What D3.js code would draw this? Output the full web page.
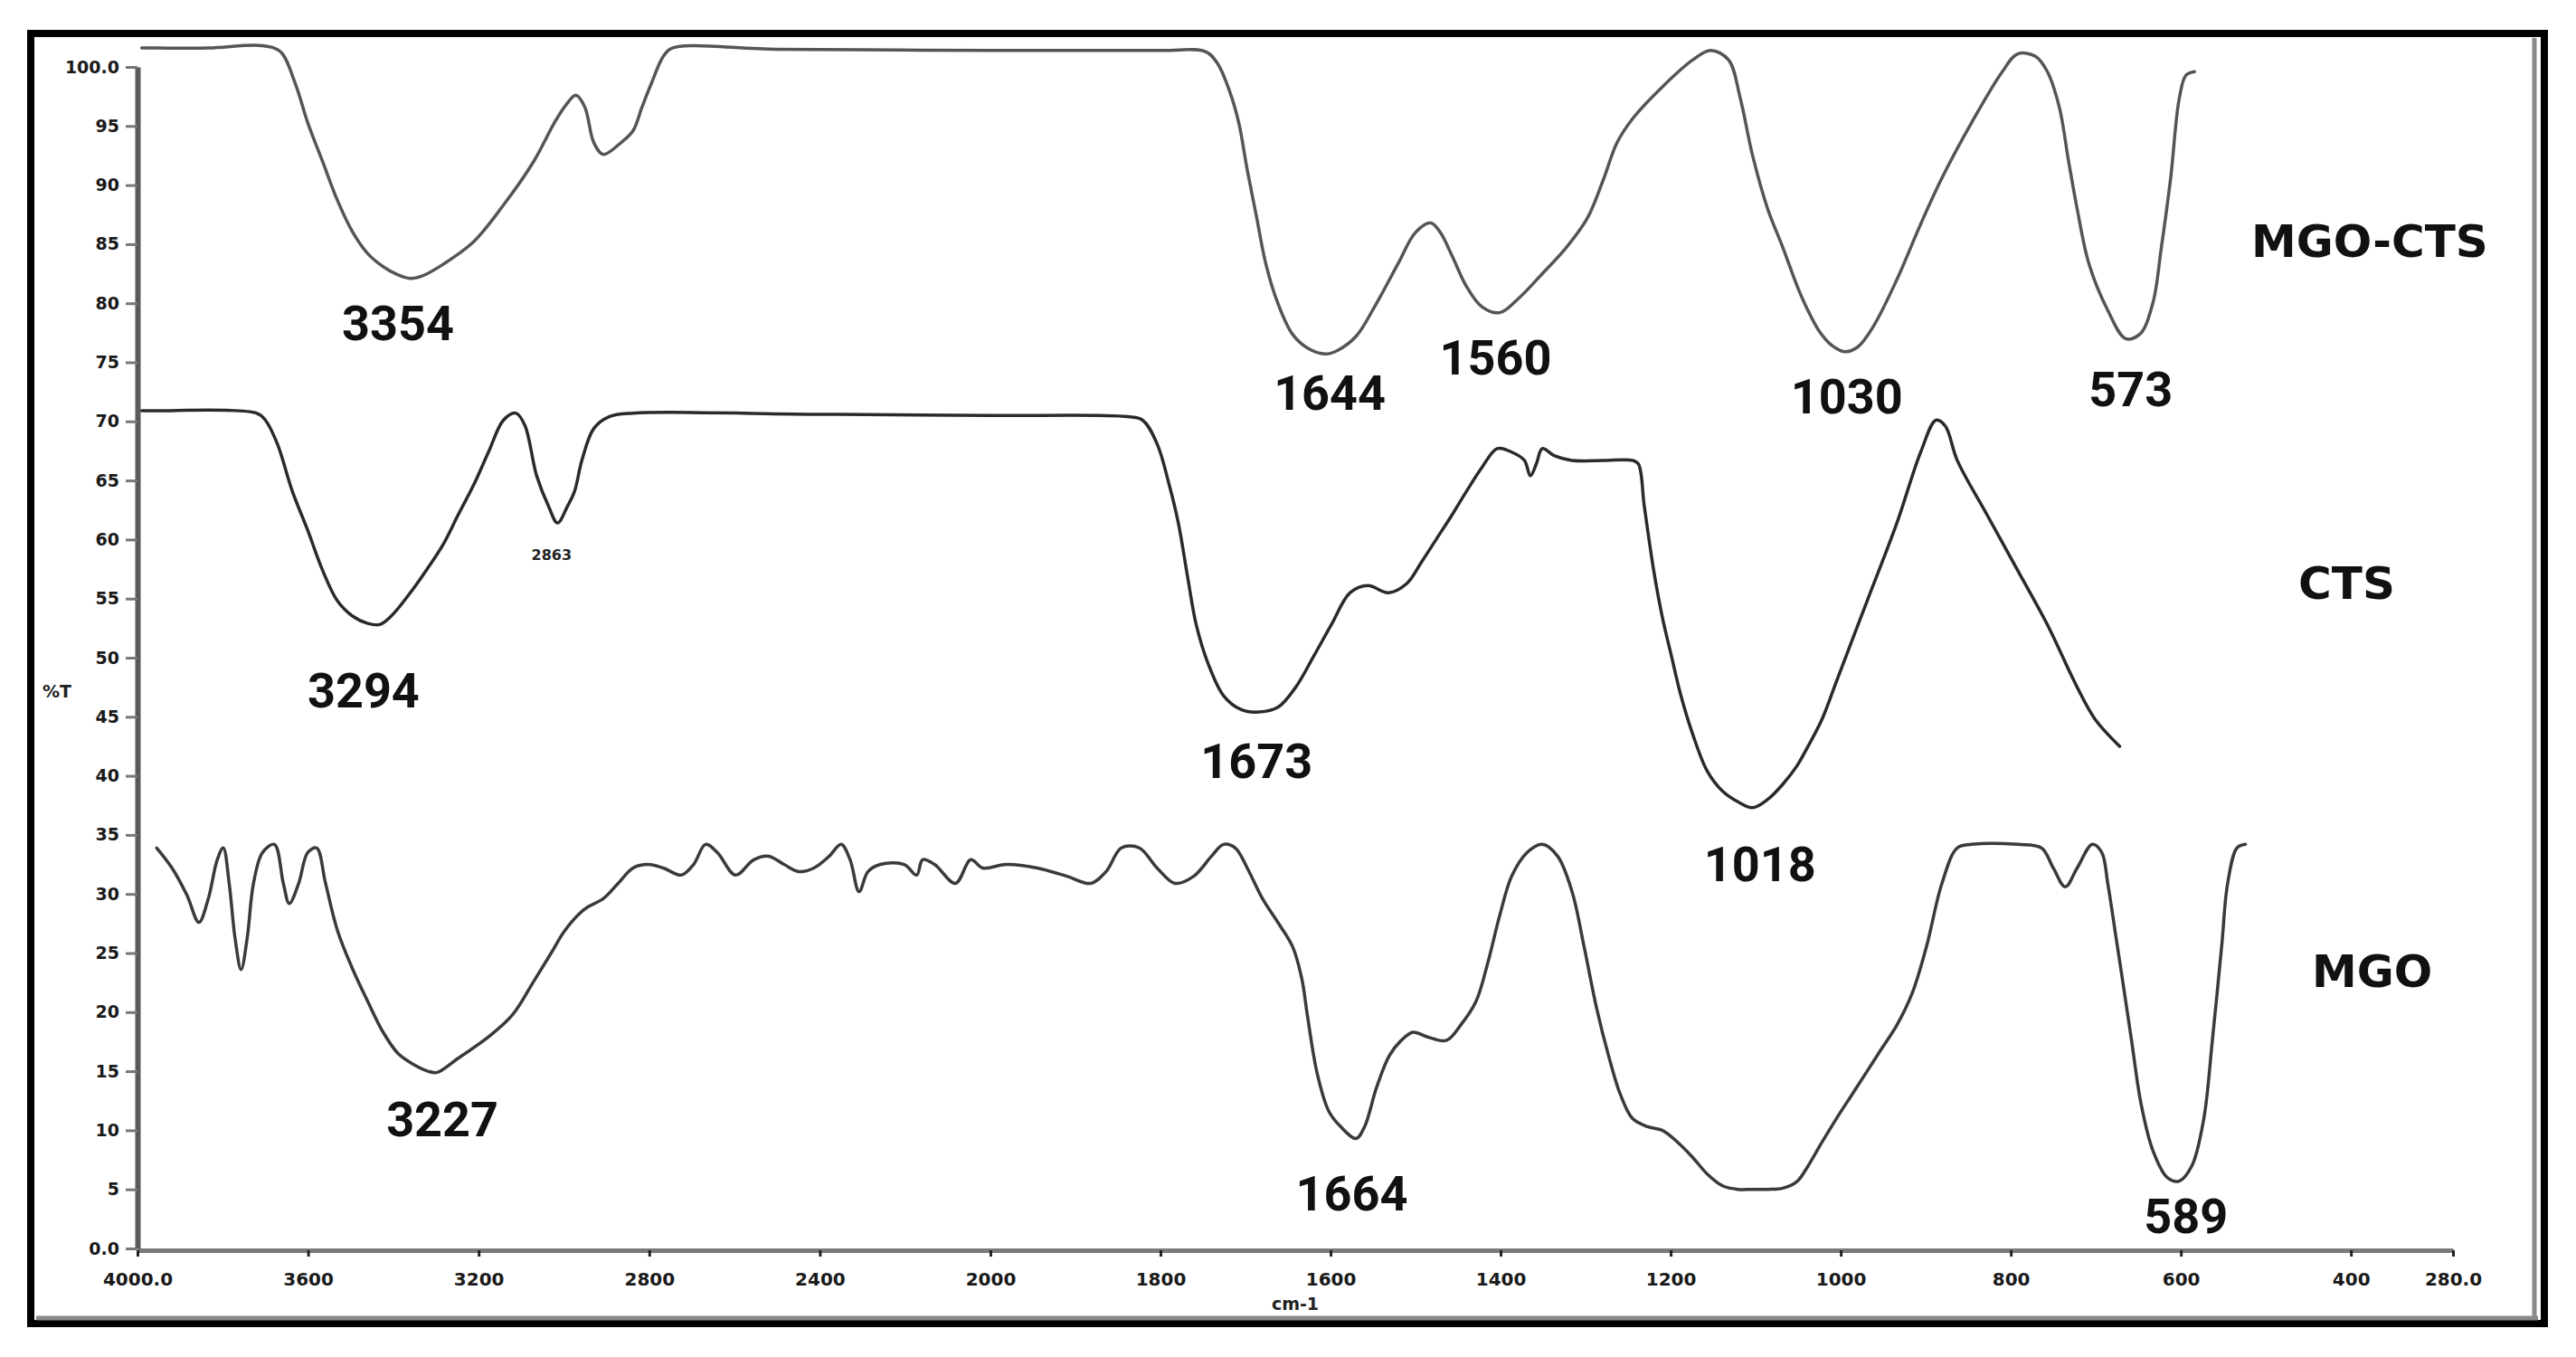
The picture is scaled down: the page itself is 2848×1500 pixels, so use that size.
<!DOCTYPE html>
<html>
<head>
<meta charset="utf-8">
<script src="https://cdn.jsdelivr.net/npm/d3@7/dist/d3.min.js"></script>
<style>
  html, body { margin: 0; padding: 0; background: #fff; }
  svg { display: block; }
</style>
</head>
<body>
<svg id="chart" width="2848" height="1500"></svg>
<script>
// ---------- DATA ----------
const wnTicks = [4000, 3600, 3200, 2800, 2400, 2000, 1800, 1600, 1400, 1200, 1000, 800, 600, 400, 280];
const wnTickLabels = ["4000.0", "3600", "3200", "2800", "2400", "2000", "1800", "1600", "1400", "1200", "1000", "800", "600", "400", "280.0"];
const tTicks = [0, 5, 10, 15, 20, 25, 30, 35, 40, 45, 50, 55, 60, 65, 70, 75, 80, 85, 90, 95, 100];
const tTickLabels = ["0.0", "5", "10", "15", "20", "25", "30", "35", "40", "45", "50", "55", "60", "65", "70", "75", "80", "85", "90", "95", "100.0"];

const seriesNames = ["MGO-CTS", "CTS", "MGO"];

// [wavenumber cm-1, %T]
const mgoCts = [
  [3990,101.6],[3955,101.6],[3834,101.6],[3707,101.8],[3665,101.3],[3630,98.6],[3601,95.3],[3566,92.0],
  [3531,88.7],[3495,86.0],[3460,84.2],[3424,83.1],[3389,82.4],[3361,82.1],[3333,82.3],[3283,83.3],
  [3212,85.2],[3142,88.3],[3071,92.0],[3022,95.3],[2995,96.8],[2972,97.6],[2951,96.6],[2930,93.6],
  [2908,92.6],[2866,93.6],[2838,94.6],[2817,96.6],[2795,98.6],[2767,100.9],[2746,101.6],[2500,101.5],
  [2000,101.4],[1800,101.4],[1747,101.3],[1733,100.3],[1719,98.0],[1708,95.3],[1698,91.3],[1687,87.3],
  [1676,83.3],[1662,80.0],[1645,77.4],[1627,76.2],[1606,75.7],[1592,76.0],[1570,77.2],[1549,79.6],
  [1521,83.3],[1500,86.0],[1482,86.8],[1471,86.0],[1457,84.0],[1440,81.4],[1422,79.7],[1401,79.2],
  [1379,80.4],[1351,82.5],[1323,84.7],[1298,87.2],[1280,90.3],[1263,93.6],[1245,95.6],[1210,98.3],
  [1174,100.6],[1153,101.4],[1132,100.6],[1118,97.3],[1104,92.6],[1086,88.0],[1068,84.7],[1051,81.4],
  [1040,79.6],[1025,77.6],[1010,76.4],[995,75.9],[980,76.3],[962,78.0],[934,82.0],[906,86.7],
  [881,90.6],[846,95.3],[810,99.6],[792,101.1],[771,100.9],[757,99.6],[743,96.6],[732,92.0],
  [722,88.0],[708,83.3],[686,79.4],[665,77.0],[648,77.4],[633,80.0],[623,84.7],[612,90.6],
  [602,97.3],[594,99.3],[584,99.6]
];

const cts = [
  [3990,70.9],[3955,70.9],[3721,70.7],[3700,70.1],[3672,68.1],[3637,64.1],[3601,60.8],[3566,57.4],
  [3531,54.8],[3495,53.5],[3460,52.9],[3432,52.8],[3403,53.6],[3354,55.8],[3319,57.6],[3283,59.6],
  [3248,62.1],[3212,64.6],[3177,67.4],[3142,70.1],[3113,70.7],[3092,69.7],[3064,65.4],[3036,62.8],
  [3015,61.4],[2992,62.8],[2975,64.1],[2958,66.7],[2930,69.4],[2894,70.4],[2838,70.7],[2400,70.6],
  [2000,70.5],[1839,70.4],[1821,70.1],[1804,68.1],[1790,64.7],[1779,61.4],[1768,56.8],[1758,52.8],
  [1744,49.5],[1726,46.8],[1705,45.6],[1684,45.4],[1662,45.8],[1641,47.5],[1620,50.1],[1599,52.8],
  [1577,55.5],[1556,56.1],[1532,55.5],[1510,56.3],[1493,58.1],[1475,60.1],[1457,62.1],[1440,64.1],
  [1422,66.1],[1404,67.7],[1387,67.4],[1372,66.7],[1365,65.4],[1358,66.4],[1351,67.7],[1337,67.1],
  [1316,66.7],[1280,66.7],[1245,66.7],[1238,66.4],[1231,62.8],[1220,57.4],[1210,53.5],[1199,50.1],
  [1188,46.8],[1174,43.5],[1157,40.4],[1139,38.7],[1121,37.8],[1104,37.3],[1086,38.0],[1068,39.3],
  [1051,40.9],[1040,42.3],[1022,44.8],[1005,48.0],[969,54.8],[934,61.4],[906,67.4],[888,70.1],
  [877,69.6],[863,66.7],[828,62.1],[792,57.4],[757,52.8],[722,47.5],[701,44.8],[672,42.5]
];

const mgo = [
  [3955,33.9],[3919,32.2],[3884,29.9],[3856,27.6],[3834,29.6],[3813,32.9],[3799,33.9],[3785,30.9],
  [3771,26.2],[3757,23.6],[3743,26.2],[3728,30.9],[3707,33.5],[3679,34.2],[3658,30.9],[3644,29.2],
  [3622,30.9],[3601,33.5],[3580,33.9],[3559,30.9],[3531,26.9],[3495,23.6],[3460,20.9],[3424,18.3],
  [3389,16.5],[3354,15.6],[3319,15.0],[3297,14.9],[3248,16.1],[3177,17.9],[3120,19.8],[3071,22.6],
  [3030,25.0],[3000,26.8],[2965,28.3],[2944,28.9],[2908,29.6],[2873,30.9],[2838,32.2],[2803,32.5],
  [2767,32.2],[2725,31.6],[2696,32.5],[2668,34.2],[2640,33.5],[2598,31.6],[2555,32.9],[2520,33.2],
  [2484,32.5],[2449,31.9],[2414,32.2],[2378,33.2],[2350,34.2],[2329,32.9],[2308,30.2],[2287,31.9],
  [2258,32.5],[2202,32.5],[2173,31.6],[2159,32.9],[2131,32.5],[2082,30.9],[2046,32.9],[2018,32.2],
  [1981,32.5],[1945,32.2],[1910,31.5],[1882,30.9],[1864,31.9],[1846,33.9],[1825,33.9],[1804,32.2],
  [1783,30.9],[1761,31.5],[1740,33.2],[1726,34.2],[1712,33.9],[1698,32.2],[1680,29.6],[1662,27.6],
  [1645,25.6],[1634,22.9],[1627,19.6],[1616,14.9],[1602,11.6],[1588,10.3],[1570,9.3],[1560,10.3],
  [1546,13.6],[1531,16.3],[1517,17.6],[1503,18.3],[1486,17.9],[1464,17.6],[1447,18.9],[1429,20.9],
  [1415,24.2],[1401,28.2],[1387,31.5],[1369,33.5],[1351,34.2],[1333,33.2],[1316,30.2],[1302,25.6],
  [1287,20.3],[1273,16.3],[1259,13.0],[1245,11.0],[1227,10.3],[1210,10.0],[1192,9.0],[1174,7.7],
  [1157,6.3],[1139,5.3],[1121,5.0],[1104,5.0],[1086,5.0],[1068,5.1],[1051,5.7],[1040,6.8],
  [1022,9.0],[1005,11.0],[987,13.0],[969,15.0],[952,16.9],[934,18.9],[916,21.6],[899,25.6],
  [881,30.9],[863,33.9],[846,34.2],[792,34.2],[764,33.9],[750,32.2],[736,30.6],[722,32.2],
  [704,34.2],[693,33.5],[686,30.9],[676,26.2],[669,22.9],[658,17.6],[647,12.3],[633,8.3],
  [616,6.0],[602,5.7],[587,7.0],[573,11.0],[563,17.6],[552,25.6],[545,30.9],[534,33.9],[524,34.2]
];

// peak annotations: text, anchor wavenumber, anchor %T
const peakTexts = ["3354", "1644", "1560", "1030", "573", "3294", "1673", "1018", "3227", "1664", "589"];
const peakWn    = [3389, 1601, 1406, 993, 659, 3470, 1687, 1095, 3285, 1575, 594];
const peakT     = [78.3, 72.4, 75.4, 72.1, 72.7, 47.2, 41.2, 32.5, 10.9, 4.6, 2.7];
const smallPeakText = "2863";
const smallPeakWn = 3029;
const smallPeakT = 58.7;
const seriesLabelWn = [378, 405, 375];
const seriesLabelT = [85.2, 56.3, 23.4];

// ---------- CHART ----------
const svg = d3.select("#chart");

const x = d3.scaleLinear().domain([4000, 2000, 280]).range([152, 1095, 2712]);
const y = d3.scaleLinear().domain([0, 100]).range([1380, 74]);

// outer frame
svg.append("rect").attr("x", 34).attr("y", 37).attr("width", 2779).attr("height", 1426)
  .attr("fill", "none").attr("stroke", "#000").attr("stroke-width", 8);
svg.append("line").attr("x1", 2802).attr("x2", 2802).attr("y1", 42).attr("y2", 1458)
  .attr("stroke", "#8a8a8a").attr("stroke-width", 5);
svg.append("line").attr("x1", 40).attr("x2", 2806).attr("y1", 1457).attr("y2", 1457)
  .attr("stroke", "#8a8a8a").attr("stroke-width", 5);

// X axis
const xAxis = d3.axisBottom(x)
  .tickValues(wnTicks)
  .tickFormat((d, i) => wnTickLabels[i])
  .tickSize(7).tickSizeOuter(0).tickPadding(18);
const gx = svg.append("g").attr("transform", "translate(0,1382)").call(xAxis);
gx.select(".domain").attr("stroke", "#7a7a7a").attr("stroke-width", 5);
gx.selectAll(".tick line").attr("stroke", "#222").attr("stroke-width", 3);
gx.selectAll(".tick text")
  .attr("font-family", "DejaVu Sans").attr("font-weight", "bold")
  .attr("font-size", 20).attr("fill", "#1a1a1a");

// Y axis
const yAxis = d3.axisLeft(y)
  .tickValues(tTicks)
  .tickFormat((d, i) => tTickLabels[i])
  .tickSize(13).tickSizeOuter(0).tickPadding(7);
const gy = svg.append("g").attr("transform", "translate(152,0)").call(yAxis);
gy.select(".domain").attr("stroke", "#5a5a5a").attr("stroke-width", 6);
gy.selectAll(".tick line").attr("stroke", "#777").attr("stroke-width", 3);
gy.selectAll(".tick text")
  .attr("font-family", "DejaVu Sans").attr("font-weight", "bold")
  .attr("font-size", 19).attr("fill", "#1a1a1a");

// axis titles
svg.append("text").attr("x", 63).attr("y", 764).attr("text-anchor", "middle")
  .attr("dominant-baseline", "central")
  .attr("font-family", "DejaVu Sans").attr("font-weight", "bold").attr("font-size", 19)
  .attr("fill", "#222").text("%T");
svg.append("text").attr("x", 1432).attr("y", 1441).attr("text-anchor", "middle")
  .attr("dominant-baseline", "central")
  .attr("font-family", "DejaVu Sans").attr("font-weight", "bold").attr("font-size", 19)
  .attr("fill", "#222").text("cm-1");

// spectra
const line = d3.line()
  .x(d => x(d[0]))
  .y(d => y(d[1]))
  .curve(d3.curveCatmullRom.alpha(0.5));

const seriesData = [mgoCts, cts, mgo];
const seriesColors = ["#555", "#2a2a2a", "#3a3a3a"];
seriesData.forEach((data, i) => {
  svg.append("path")
    .datum(data)
    .attr("d", line)
    .attr("fill", "none")
    .attr("stroke", seriesColors[i])
    .attr("stroke-width", 3.5)
    .attr("stroke-linejoin", "round")
    .attr("stroke-linecap", "round");
});

// peak labels
peakTexts.forEach((t, i) => {
  svg.append("text")
    .attr("x", x(peakWn[i])).attr("y", y(peakT[i]))
    .attr("text-anchor", "middle").attr("dominant-baseline", "central")
    .attr("font-family", "Roboto").attr("font-weight", "bold").attr("font-size", 54)
    .attr("fill", "#111").text(t);
});
svg.append("text")
  .attr("x", x(smallPeakWn)).attr("y", y(smallPeakT))
  .attr("text-anchor", "middle").attr("dominant-baseline", "central")
  .attr("font-family", "DejaVu Sans").attr("font-weight", "bold").attr("font-size", 16)
  .attr("fill", "#222").text(smallPeakText);

// series labels
seriesNames.forEach((n, i) => {
  svg.append("text")
    .attr("x", x(seriesLabelWn[i])).attr("y", y(seriesLabelT[i]))
    .attr("text-anchor", "middle").attr("dominant-baseline", "central")
    .attr("font-family", "DejaVu Sans").attr("font-weight", "bold").attr("font-size", 50)
    .attr("fill", "#111").text(n);
});
</script>
</body>
</html>
